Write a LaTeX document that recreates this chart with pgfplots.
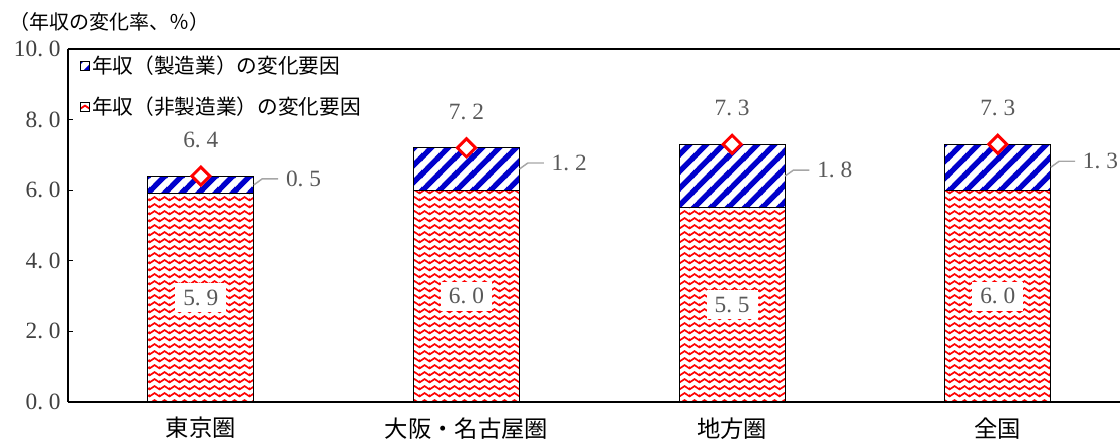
\documentclass[border=0pt]{standalone}
\usepackage{pgfplots}
\pgfplotsset{compat=1.18}
\usepackage{pgfplotstable}
\usetikzlibrary{patterns}
\usepackage{fontspec}
\setmainfont{Liberation Serif}
\newfontfamily\jp{Noto Sans CJK JP}

\definecolor{stripeblue}{HTML}{0000CC}
\definecolor{zigred}{HTML}{FF0000}
\definecolor{ticktext}{HTML}{404040}
\definecolor{labeltext}{HTML}{595959}
\definecolor{leadergray}{HTML}{A6A6A6}

% blue diagonal stripes on white
\pgfdeclarepatterninherentlycolored{bluestripes}
  {\pgfqpoint{0pt}{0pt}}{\pgfqpoint{12.5pt}{12.5pt}}{\pgfqpoint{12.5pt}{12.5pt}}
{%
  \pgfsetfillcolor{white}%
  \pgfpathrectangle{\pgfqpoint{0pt}{0pt}}{\pgfqpoint{12.5pt}{12.5pt}}%
  \pgfusepath{fill}%
  \pgfsetstrokecolor{stripeblue}%
  \pgfsetlinewidth{4pt}%
  \pgfpathmoveto{\pgfqpoint{-2pt}{-2pt}}\pgfpathlineto{\pgfqpoint{14.5pt}{14.5pt}}%
  \pgfpathmoveto{\pgfqpoint{-4pt}{8.5pt}}\pgfpathlineto{\pgfqpoint{4pt}{16.5pt}}%
  \pgfpathmoveto{\pgfqpoint{8.5pt}{-4pt}}\pgfpathlineto{\pgfqpoint{16.5pt}{4pt}}%
  \pgfusepath{stroke}%
}

% red horizontal zigzag on white
\pgfdeclarepatterninherentlycolored{redzigzag}
  {\pgfqpoint{0pt}{0pt}}{\pgfqpoint{7.5pt}{5.5pt}}{\pgfqpoint{7.5pt}{5.5pt}}
{%
  \pgfsetfillcolor{white}%
  \pgfpathrectangle{\pgfqpoint{0pt}{0pt}}{\pgfqpoint{7.5pt}{5.5pt}}%
  \pgfusepath{fill}%
  \pgfsetstrokecolor{zigred}%
  \pgfsetlinewidth{1.35pt}%
  \pgfpathmoveto{\pgfqpoint{-3.75pt}{4pt}}%
  \pgfpathlineto{\pgfqpoint{0pt}{1.5pt}}%
  \pgfpathlineto{\pgfqpoint{3.75pt}{4pt}}%
  \pgfpathlineto{\pgfqpoint{7.5pt}{1.5pt}}%
  \pgfpathlineto{\pgfqpoint{11.25pt}{4pt}}%
  \pgfusepath{stroke}%
}

% leader line from the right edge of a bar to its label
\pgfdeclareplotmark{leader}{%
  \pgfpathmoveto{\pgfqpoint{39.75pt}{0pt}}%
  \pgfpathlineto{\pgfqpoint{46pt}{4.5pt}}%
  \pgfpathlineto{\pgfqpoint{58pt}{4.5pt}}%
  \pgfusepathqstroke}

\pgfplotstableread{
x non mfg total
0 5.9 0.5 6.4
1 6.0 1.2 7.2
2 5.5 1.8 7.3
3 6.0 1.3 7.3
}\data

\newcommand\numfont{\fontsize{17.5}{20}\selectfont}

\pgfplotsset{
  common/.style={
    scale only axis, width=789pt, height=264.75pt,
    xmin=-0.5, xmax=3.46, ymin=0, ymax=10,
    /pgf/number format/assume math mode=true,
    /pgf/number format/.cd, fixed, fixed zerofill, precision=1,
    dec sep={.\hspace{0.25em}},
  },
}

\begin{document}
\begin{tikzpicture}
\begin{axis}[
  common,
  ybar stacked, bar width=79.5pt,
  axis x line*=bottom, axis y line*=left,
  axis line style={-, line width=1.1pt, black},
  ytick={0,2,...,10}, ytick align=inside, major tick length=4pt,
  ytick style={line width=1pt, black},
  yticklabel style={font=\numfont, text=ticktext, xshift=-2pt},
  xtick={0,1,2,3}, xtick style={draw=none},
  xticklabels={東京圏,大阪・名古屋圏,地方圏,全国},
  xticklabel style={font=\jp\fontsize{17.5}{20}\selectfont, yshift=-8pt},
  reverse legend,
  legend style={at={(0.011,0.995)}, anchor=north west, draw=none, fill=none,
    font=\jp\fontsize{15.5}{18}\selectfont, row sep=12pt,
    inner xsep=0pt, inner ysep=1.5pt},
  legend cell align=left,
  legend image code/.code={\draw[#1, line width=0.6pt] (0pt,-3.3pt) rectangle (6.6pt,3.3pt);},
]
\addplot[draw=black, line width=0.8pt, pattern=redzigzag] table[x=x, y=non]{\data};
\addlegendentry{年収（非製造業）の変化要因}
\addplot[draw=black, line width=0.8pt, pattern=bluestripes] table[x=x, y=mfg]{\data};
\addlegendentry{年収（製造業）の変化要因}
\draw[line width=1.1pt, black] (rel axis cs:0,1) -- (rel axis cs:1,1);
\end{axis}

\begin{axis}[common, hide axis, clip=false]
% manufacturing share, labelled beside each bar
\addplot[only marks, mark=leader, mark options={draw=leadergray, line width=1.1pt},
  nodes near coords, point meta=explicit,
  nodes near coords style={anchor=west, xshift=60pt, yshift=4.5pt,
    font=\numfont, text=labeltext}]
  table[x=x, y expr=\thisrow{non}+\thisrow{mfg}/2, meta=mfg]{\data};
% non-manufacturing share, labelled inside each bar
\addplot[draw=none, mark=none,
  nodes near coords, point meta=explicit,
  nodes near coords style={anchor=center, fill=white, inner xsep=6pt, inner ysep=5pt,
    font=\numfont, text=labeltext}]
  table[x=x, y expr=\thisrow{non}/2, meta=non]{\data};
% total change
\addplot[only marks, mark=square*, mark size=4.8pt,
  mark options={rotate=45, fill=white, draw=zigred, line width=2.2pt},
  nodes near coords, point meta=explicit,
  nodes near coords style={anchor=center, yshift=27pt,
    font=\numfont, text=labeltext}]
  table[x=x, y=total, meta=total]{\data};
\end{axis}

\node[anchor=west, font=\jp\fontsize{15}{18}\selectfont, inner sep=0pt]
  at (-44pt,285pt) {（年収の変化率、％）};

\pgfresetboundingbox
\path[use as bounding box] (-51pt,-29.25pt) rectangle (789pt,301.5pt);
\end{tikzpicture}
\end{document}
